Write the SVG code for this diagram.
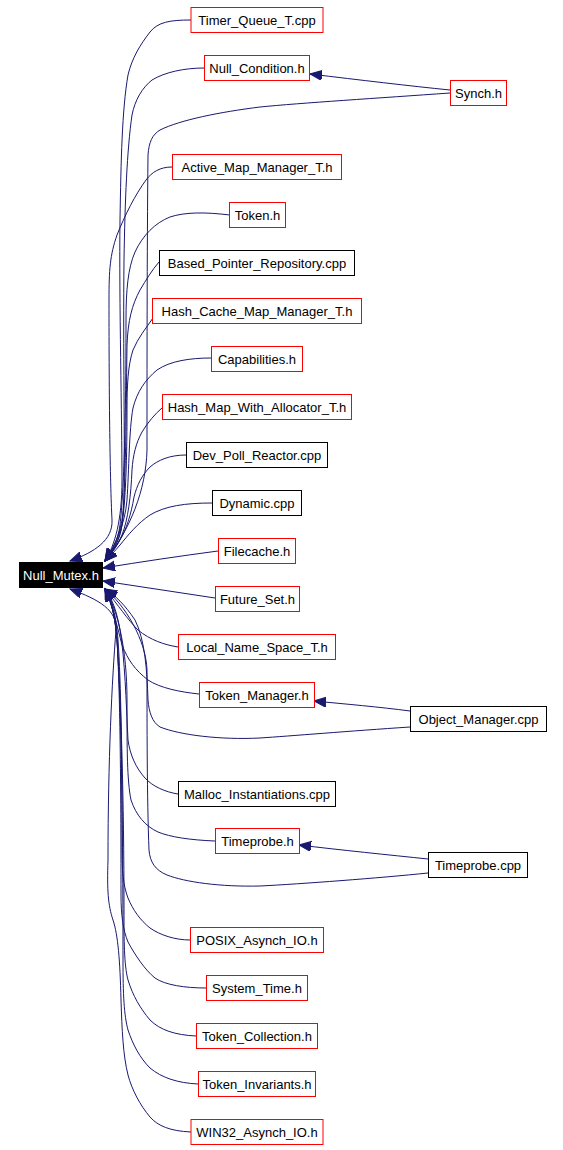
<svg xmlns="http://www.w3.org/2000/svg" width="563" height="1150" viewBox="0 0 563 1150">
<style>
.r rect{fill:#fff;stroke:#ff0000;stroke-width:1}
.k rect{fill:#fff;stroke:#000;stroke-width:1}
.m rect{fill:#000;stroke:#000;stroke-width:1}
text{font-family:"Liberation Sans",Arial,sans-serif;font-size:13px;text-anchor:middle;fill:#000}
.m text{fill:#fff}
.e path{fill:none;stroke:#191970;stroke-width:1;marker-end:url(#ah)}
</style>
<defs>
<marker id="ah" markerUnits="userSpaceOnUse" markerWidth="14" markerHeight="12" refX="12" refY="5" orient="auto">
<path d="M0,0 L12,5 L0,10 z" fill="#191970" stroke="#191970" stroke-width="1"/>
</marker>
</defs>
<rect width="563" height="1150" fill="#fff"/>
<g id="edges" class="e">
<path d="M191,20 C170,20 158,22 150,32 C140,45 132,58 128,75 C122,110 121,160 120,220 C119,300 122,420 122,480 C122,520 115,545 105,561"/>
<path d="M204,68 C185,68 165,72 152,80 C142,88 135,100 132,115 C127,150 125,200 124,260 C123,350 125,440 124,500 C123,530 114,548 105,561"/>
<path d="M450,90 C410,86 360,80 310,74"/>
<path d="M450,93 C380,98 300,103 260,107 C220,112 180,120 160,130 C152,135 149,142 148,155 C147,250 147,380 147,450 C146,490 130,530 105,561"/>
<path d="M172,167 C160,167 152,172 146,180 C135,195 125,215 117,235 C110,255 109,270 109,300 C109,400 110,480 112,520 C113,540 95,552 70,561"/>
<path d="M230,215 C205,212 185,212 170,217 C155,223 143,235 135,252 C128,268 126,290 126,320 C126,420 124,490 120,525 C118,540 112,552 105,561"/>
<path d="M159,262 C152,270 146,280 140,290 C132,305 128,320 127,345 C126,420 126,480 122,525 C120,540 113,552 105,561"/>
<path d="M153,318 C146,328 138,338 133,350 C128,365 127,385 127,410 C127,470 125,510 121,530 C118,542 112,552 105,561"/>
<path d="M211,358 C190,358 170,361 157,370 C145,380 137,392 133,408 C129,430 129,470 127,500 C125,525 115,545 105,561"/>
<path d="M163,407 C155,414 148,422 142,432 C136,443 133,455 132,470 C131,495 128,520 122,535 C118,545 112,553 105,561"/>
<path d="M186,455 C170,455 158,460 150,467 C142,475 137,485 134,497 C131,515 126,530 120,540 C116,547 111,554 105,561"/>
<path d="M212,503 C185,503 165,506 150,515 C138,523 128,535 120,545 C115,551 110,556 105,561"/>
<path d="M218,551 C180,556 140,562 103,568"/>
<path d="M215,598 L103,581"/>
<path d="M178,647 C165,645 150,640 138,630 C128,620 118,605 105,589"/>
<path d="M199,694 C180,692 160,688 148,680 C135,670 128,660 122,645 C117,625 112,605 105,589"/>
<path d="M410,711 C380,707 345,704 314,701"/>
<path d="M410,727 C350,731 290,736 260,738 C220,740 180,735 160,727 C152,722 149,712 148,700 C147,670 145,640 135,620 C125,605 115,595 105,589"/>
<path d="M178,794 C165,792 152,786 145,778 C136,768 130,755 128,740 C126,700 125,660 120,630 C117,612 112,598 105,589"/>
<path d="M215,841 C190,840 170,837 158,832 C145,826 136,815 131,800 C127,780 127,750 127,700 C127,650 118,610 105,589"/>
<path d="M428,859 C390,855 340,850 299,845"/>
<path d="M428,873 C380,878 300,884 260,886 C220,887 185,882 167,875 C155,870 150,862 149,850 C147,800 147,720 147,670 C146,640 125,605 105,589"/>
<path d="M190,940 C175,940 160,935 150,928 C140,920 133,910 128,898 C123,885 122,870 122,850 C122,760 121,680 118,640 C116,615 112,600 105,589"/>
<path d="M206,988 C185,988 165,985 155,978 C145,970 135,955 128,942 C123,930 121,915 121,895 C121,780 120,690 117,640 C115,615 111,600 105,589"/>
<path d="M196,1036 C175,1035 160,1030 150,1020 C140,1008 133,996 128,980 C124,965 124,940 124,910 C124,800 121,700 117,640 C115,615 111,600 105,589"/>
<path d="M198,1084 C178,1083 162,1078 150,1068 C140,1058 133,1045 128,1030 C124,1015 123,995 123,960 C123,820 121,700 117,640 C115,615 111,600 105,589"/>
<path d="M191,1132 C170,1131 158,1126 150,1117 C140,1105 132,1090 128,1075 C123,1055 122,1030 121,1000 C120,960 118,935 113,920 C108,905 107,890 108,860 C108,760 112,680 116,630 C117,610 100,600 70,589"/>
</g>
<g id="n_null_mutex" class="m"><rect x="19.5" y="562.5" width="83" height="25"/><text x="61" y="579.5">Null_Mutex.h</text></g>
<g id="n_timer_queue" class="r"><rect x="191" y="7.5" width="132" height="25"/><text x="257" y="24.5">Timer_Queue_T.cpp</text></g>
<g id="n_null_condition" class="r"><rect x="204.5" y="55.5" width="105" height="25"/><text x="257" y="72.5">Null_Condition.h</text></g>
<g id="n_synch" class="r"><rect x="450.5" y="80.5" width="56" height="25"/><text x="478.5" y="97.5">Synch.h</text></g>
<g id="n_active_map" class="r"><rect x="172.5" y="154.5" width="169" height="25"/><text x="257" y="171.5">Active_Map_Manager_T.h</text></g>
<g id="n_token" class="r"><rect x="229.5" y="202.5" width="56" height="25"/><text x="257.5" y="219.5">Token.h</text></g>
<g id="n_based" class="k"><rect x="159.5" y="250.5" width="195" height="25"/><text x="257" y="267.5">Based_Pointer_Repository.cpp</text></g>
<g id="n_hash_cache" class="r"><rect x="152.5" y="298.5" width="209" height="25"/><text x="257" y="315.5">Hash_Cache_Map_Manager_T.h</text></g>
<g id="n_capabilities" class="r"><rect x="211.5" y="346.5" width="91" height="25"/><text x="257" y="363.5">Capabilities.h</text></g>
<g id="n_hmwa" class="r"><rect x="162.5" y="394.5" width="189" height="25"/><text x="257" y="411.5">Hash_Map_With_Allocator_T.h</text></g>
<g id="n_dev_poll" class="k"><rect x="186.5" y="442.5" width="141" height="25"/><text x="257" y="459.5">Dev_Poll_Reactor.cpp</text></g>
<g id="n_dynamic" class="k"><rect x="212.5" y="490.5" width="89" height="25"/><text x="257" y="507.5">Dynamic.cpp</text></g>
<g id="n_filecache" class="r"><rect x="218.5" y="538.5" width="77" height="25"/><text x="257" y="555.5">Filecache.h</text></g>
<g id="n_future_set" class="r"><rect x="215.5" y="586.5" width="84" height="25"/><text x="257.5" y="603.5">Future_Set.h</text></g>
<g id="n_local_name" class="r"><rect x="178.5" y="634.5" width="157" height="25"/><text x="257" y="651.5">Local_Name_Space_T.h</text></g>
<g id="n_token_manager" class="r"><rect x="199.5" y="682.5" width="115" height="25"/><text x="257" y="699.5">Token_Manager.h</text></g>
<g id="n_object_manager" class="k"><rect x="410.5" y="706.5" width="136" height="25"/><text x="478.5" y="723.5">Object_Manager.cpp</text></g>
<g id="n_malloc" class="k"><rect x="178.5" y="781.5" width="157" height="25"/><text x="257" y="798.5">Malloc_Instantiations.cpp</text></g>
<g id="n_timeprobe_h" class="r"><rect x="215.5" y="828.5" width="84" height="25"/><text x="257.5" y="845.5">Timeprobe.h</text></g>
<g id="n_timeprobe_cpp" class="k"><rect x="428.5" y="852.5" width="99" height="25"/><text x="478" y="869.5">Timeprobe.cpp</text></g>
<g id="n_posix" class="r"><rect x="190.5" y="927.5" width="133" height="25"/><text x="257" y="944.5">POSIX_Asynch_IO.h</text></g>
<g id="n_system_time" class="r"><rect x="206.5" y="975.5" width="101" height="25"/><text x="257" y="992.5">System_Time.h</text></g>
<g id="n_token_collection" class="r"><rect x="196.5" y="1023.5" width="121" height="25"/><text x="257" y="1040.5">Token_Collection.h</text></g>
<g id="n_token_invariants" class="r"><rect x="198.5" y="1071.5" width="117" height="25"/><text x="257" y="1088.5">Token_Invariants.h</text></g>
<g id="n_win32" class="r"><rect x="191" y="1119.5" width="132" height="25"/><text x="257" y="1136.5">WIN32_Asynch_IO.h</text></g>
</svg>
